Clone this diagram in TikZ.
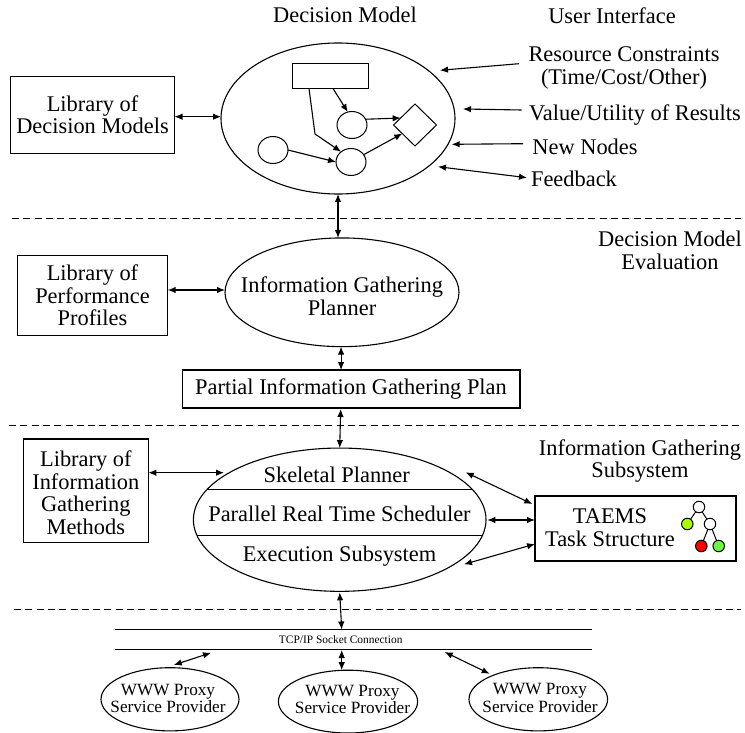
\documentclass[tikz,border=0pt]{standalone}
\usepackage{fontspec}
\setmainfont{Liberation Serif}
\usetikzlibrary{shapes.geometric,arrows.meta}
\definecolor{leafa}{RGB}{170,250,0}
\definecolor{leafb}{RGB}{105,250,60}
\tikzset{
  every node/.style={inner sep=0pt,outer sep=0pt,align=center,font=\fontsize{22.4}{22.5}\selectfont},
  box/.style={draw,line width=1.1pt,rectangle},
  oval/.style={draw,line width=1.1pt,ellipse},
  small/.style={draw,line width=1pt,ellipse,minimum width=30pt,minimum height=27pt},
  conn/.style={line width=1.1pt,-{Latex[length=8pt,width=6.5pt]}},
  dconn/.style={line width=1.1pt,{Latex[length=8pt,width=6.5pt]}-{Latex[length=8pt,width=6.5pt]}},
  sep/.style={line width=1pt,dash pattern=on 7pt off 4.3pt},
  rule/.style={line width=1.1pt},
  proxy/.style={font=\fontsize{17.2}{17.3}\selectfont},
  leaf/.style={draw,line width=1pt,circle,minimum size=11.5pt},
}
\begin{document}
\begin{tikzpicture}[x=1pt,y=-1pt]
\useasboundingbox (0,0) rectangle (745,733);
% separators
\coordinate (s1a) at (12,218.3); \coordinate (s1b) at (741,218.3);
\coordinate (s2a) at (9,425); \coordinate (s2b) at (741,425);
\coordinate (s3a) at (14,609.3); \coordinate (s3b) at (741,609.3);
\draw[sep] (s1a) -- (s1b);
\draw[sep] (s2a) -- (s2b);
\draw[sep] (s3a) -- (s3b);
% titles
\node (tdm) at (345,15) {Decision Model};
\node (tui) at (612,16) {User Interface};
\node (trc) at (624,68) {Resource Constraints\\(Time/Cost/Other)};
\node (tval) at (635,115) {Value/Utility of Results};
\node (tnew) at (585,147) {New Nodes};
\node (tfb) at (574,179) {Feedback};
\node (tdme) at (670,250.5) {Decision Model\\Evaluation};
\node (tigs) at (640,461) {Information Gathering\\Subsystem};
% decision model
\node[oval,minimum width=234pt,minimum height=151pt] (main) at (338,118.5) {};
\node[box,line width=1pt,minimum width=76pt,minimum height=25pt] (rct) at (330,76) {};
\node[small] (c1) at (352,125) {};
\node[small] (c2) at (351,162) {};
\node[small] (c3) at (273,150) {};
\node[draw,line width=1pt,diamond,minimum width=43pt,minimum height=42pt] (dia) at (415,125) {};
\coordinate (bend) at (315,134);
\draw[conn] ([xshift=-21pt]rct.south) -- (bend) -- (c2.134);
\draw[conn] ([xshift=3pt]rct.south) -- (c1.108);
\draw[conn] (c1.23) -- (dia.154);
\draw[conn] (c3.east) -- (c2.west);
\draw[conn] (c2.30) -- (dia.214);
% library 1
\node[box,minimum width=164pt,minimum height=76.7pt] (lib1) at (92.5,115.3) {};
\node (lib1t) at (92.5,114.5) {Library of\\Decision Models};
\draw[dconn] (lib1.east |- 0,116.7) -- (main.west |- 0,116.7);
% UI arrows
\coordinate (a1s) at (519,63.7); \coordinate (a1e) at (440,70.3);
\coordinate (a2s) at (521.7,110); \coordinate (a2e) at (463,109);
\coordinate (a3s) at (523,143.7); \coordinate (a3e) at (451.7,144.3);
\coordinate (a4s) at (527,177.7); \coordinate (a4e) at (438,166.7);
\draw[conn] (a1s) -- (a1e);
\draw[conn] (a2s) -- (a2e);
\draw[conn] (a3s) -- (a3e);
\draw[dconn] (a4e) -- (a4s);
% planner
\node[oval,minimum width=234pt,minimum height=108.7pt] (igp) at (342,292.3) {};
\node (igpt) at (342,296) {Information Gathering\\Planner};
\node[box,minimum width=150.4pt,minimum height=80pt] (lib2) at (92.5,295.3) {Library of\\Performance\\Profiles};
\node[box,minimum width=337.3pt,minimum height=38pt] (pig) at (351.3,389) {};
\node (pigt) at (351,389) {Partial Information Gathering Plan};
\draw[dconn] (main.south) -- (igp.north -| main.south);
\draw[dconn] (lib2.east |- 0,290) -- (igp.west |- 0,290);
\draw[dconn] (igp.269) -- (pig.north -| igp.269);
% IG subsystem
\node[oval,minimum width=292.6pt,minimum height=143.3pt] (ell3) at (339.7,519.7) {};
\coordinate (la) at (207.2,489.3); \coordinate (lb) at (472.2,489.3);
\coordinate (lc) at (197,535.7); \coordinate (ld) at (482.4,535.7);
\draw[rule] (la) -- (lb);
\draw[rule] (lc) -- (ld);
\node (tsk) at (336.7,475) {Skeletal Planner};
\node (tpr) at (339.5,514) {Parallel Real Time Scheduler};
\node (tex) at (339.5,556) {Execution Subsystem};
\node[box,minimum width=125pt,minimum height=103.7pt] (lib3) at (85.8,490.8) {};
\node (lib3t) at (85.8,492.8) {Library of\\Information\\Gathering\\Methods};
\draw[dconn] (lib3.east |- 0,472.7) -- (224,472.7);
\draw[dconn] (pig.south -| ell3.north) ++(1,1) -- (ell3.north);
% TAEMS
\node[box,minimum width=201pt,minimum height=65pt] (tae) at (635.5,528.5) {};
\node (taet) at (610,527.5) {TAEMS\\Task Structure};
\coordinate (r1) at (465.7,472.3); \coordinate (r1e) at (532.3,504);
\coordinate (r2) at (487.3,520);
\coordinate (r3) at (464,564.3);
\draw[dconn] (r1) -- (r1e);
\draw[dconn] (r2) -- (tae.west |- r2);
\draw[dconn] (r3) -- (tae.west |- 0,544);
\node[leaf,fill=white] (n1) at (699,507) {};
\node[leaf,fill=leafa] (n2) at (687.3,524) {};
\node[leaf,fill=white] (n3) at (710,524) {};
\node[leaf,fill=red] (n4) at (701.3,546) {};
\node[leaf,fill=leafb] (n5) at (718.7,546) {};
\draw[line width=1pt] (n1) -- (n2) (n1) -- (n3) (n3) -- (n4) (n3) -- (n5);
% bottom
\coordinate (t1a) at (115.3,629.5); \coordinate (t1b) at (591.7,629.5);
\coordinate (t2a) at (115.3,649.8); \coordinate (t2b) at (591.7,649.8);
\draw[rule] (t1a) -- (t1b);
\draw[rule] (t2a) -- (t2b);
\node[font=\fontsize{11.4}{12}\selectfont] (tcp) at (340.7,640) {TCP/IP Socket Connection};
\node[oval,minimum width=138pt,minimum height=63.2pt] (p1) at (170,699.3) {};
\node[oval,minimum width=139.2pt,minimum height=62.8pt] (p2) at (348,701.6) {};
\node[oval,minimum width=138.6pt,minimum height=63.2pt] (p3) at (538.3,699.3) {};
\node[proxy] (p1t) at (168,698.5) {WWW Proxy\\Service Provider};
\node[proxy] (p2t) at (352.5,699.5) {WWW Proxy\\Service Provider};
\node[proxy] (p3t) at (540,698) {WWW Proxy\\Service Provider};
\coordinate (b1) at (211,652.8); \coordinate (b1e) at (173.8,665);
\coordinate (b2) at (444.7,652); \coordinate (b2e) at (489.7,673.8);
\coordinate (b0) at (341.7,650);
\coordinate (bt) at (341.7,629.5);
\draw[dconn] (b1e) -- (b1);
\draw[dconn] (b0) -- (p2.north -| b0);
\draw[dconn] (b2) -- (b2e);
\draw[dconn] (ell3.south) ++(0,1) -- (bt);
\end{tikzpicture}
\end{document}
